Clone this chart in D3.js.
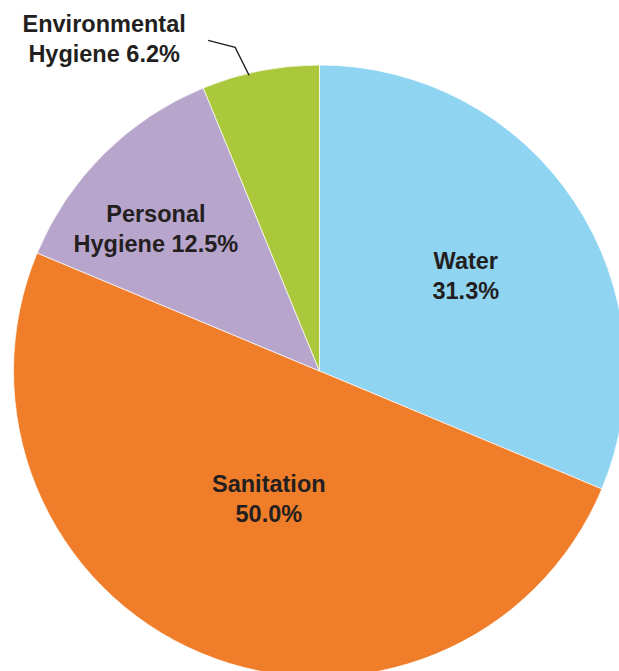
<!DOCTYPE html>
<html>
<head>
<meta charset="utf-8">
<script src="https://cdn.jsdelivr.net/npm/d3@7"></script>
<style>
  html, body { margin: 0; padding: 0; background: #ffffff; }
  svg { display: block; }
</style>
</head>
<body>
<svg id="chart" width="619" height="671"></svg>
<script>
// ---- data ----
const categories = ["Water", "Sanitation", "Personal Hygiene", "Environmental Hygiene"];
const values = [31.3, 50.0, 12.5, 6.2];
const labelLine1 = ["Water", "Sanitation", "Personal", "Environmental"];
const labelLine2 = ["31.3%", "50.0%", "Hygiene 12.5%", "Hygiene 6.2%"];

// ---- styles ----
const colors = ["#8fd4f1", "#ef7d29", "#b8a5cc", "#abc83c"];
const labelRadiusFactor = [0.57, 0.45, 0.71, null]; // null => outside label with leader
const labelAngleFrac = [0.506, 0.494, 0.41, 0.4];
const textColor = "#231f20";

const cx = 319.5, cy = 371, R = 306;
const svg = d3.select("#chart");
const g = svg.append("g").attr("transform", `translate(${cx},${cy})`);

const data = categories.map((c, i) => ({ cat: c, value: values[i], i }));
const pie = d3.pie().value(d => d.value).sort(null);
const arcs = pie(data);
const arc = d3.arc().innerRadius(0).outerRadius(R);

g.selectAll("path.slice")
  .data(arcs)
  .enter().append("path")
  .attr("class", "slice")
  .attr("d", arc)
  .attr("fill", d => colors[d.data.i])
  .attr("stroke", "#ffffff")
  .attr("stroke-width", 0.7);

const fontSize = 23.5, lineH = 30;
const font = "'Liberation Sans', Arial, Helvetica, sans-serif";

arcs.forEach(a => {
  const i = a.data.i;
  const f = labelRadiusFactor[i];
  const ang = a.startAngle + labelAngleFrac[i] * (a.endAngle - a.startAngle);
  if (f !== null) {
    const x = R * f * Math.sin(ang), y = -R * f * Math.cos(ang);
    const t = g.append("text")
      .attr("text-anchor", "middle")
      .attr("font-family", font)
      .attr("font-weight", "bold")
      .attr("font-size", fontSize)
      .attr("fill", textColor);
    const capH = fontSize * 0.716;
    const base1 = y - (lineH + capH) / 2 + capH;
    t.append("tspan").attr("x", x).attr("y", base1).text(labelLine1[i]);
    t.append("tspan").attr("x", x).attr("y", base1 + lineH).text(labelLine2[i]);
  } else {
    const r0 = R * 0.993;
    const p0 = [r0 * Math.sin(ang), -r0 * Math.cos(ang)];
    const p1 = [p0[0] - 14, p0[1] - 28];
    const p2 = [p1[0] - 27, p1[1] - 7];
    g.append("polyline")
      .attr("points", [p0, p1, p2].map(p => p.join(",")).join(" "))
      .attr("fill", "none")
      .attr("stroke", textColor)
      .attr("stroke-width", 1.3);
    const tx = p2[0] - 104, ty = p2[1] - 8.5;
    const t = g.append("text")
      .attr("text-anchor", "middle")
      .attr("font-family", font)
      .attr("font-weight", "bold")
      .attr("font-size", fontSize)
      .attr("fill", textColor);
    t.append("tspan").attr("x", tx).attr("y", ty).text(labelLine1[i]);
    t.append("tspan").attr("x", tx).attr("y", ty + lineH).text(labelLine2[i]);
  }
});
</script>
</body>
</html>
